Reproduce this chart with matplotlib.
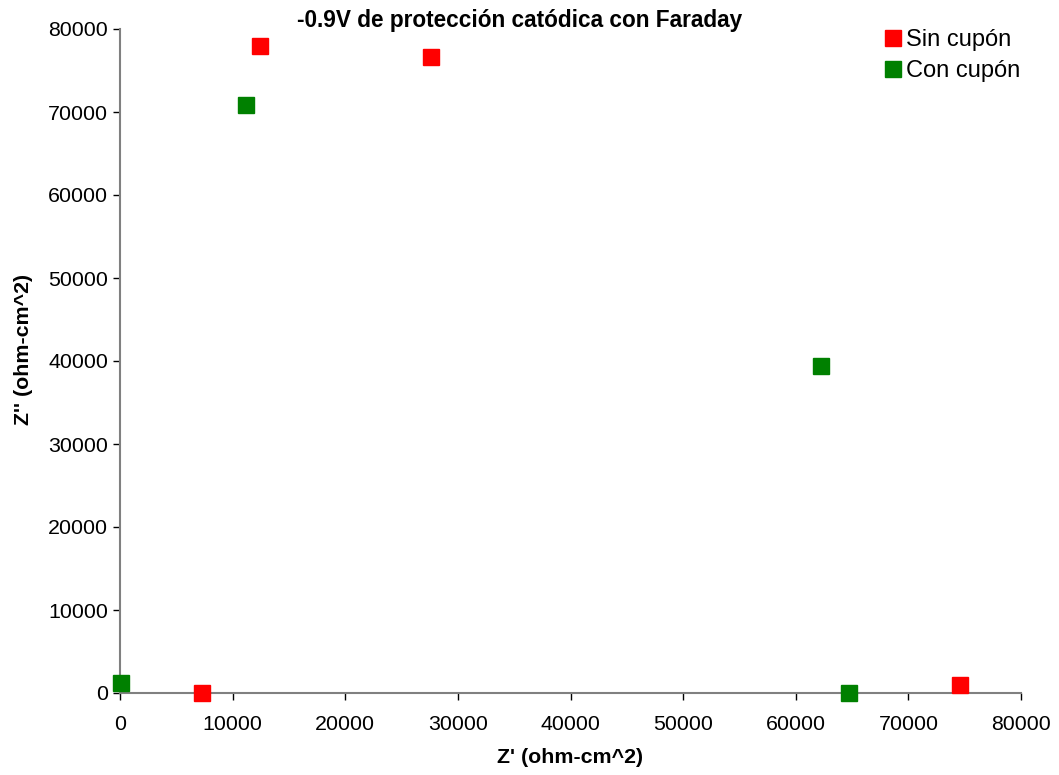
import matplotlib
matplotlib.use("Agg")
import matplotlib.pyplot as plt

plt.rcParams['font.family'] = ['Liberation Sans', 'DejaVu Sans']

sin_x = [7300, 12400, 27600, 74600]
sin_y = [0, 77900, 76600, 1000]
con_x = [100, 11200, 62200, 64700]
con_y = [1200, 70800, 39400, 0]
ticks = [0, 10000, 20000, 30000, 40000, 50000, 60000, 70000, 80000]

fig = plt.figure(figsize=(10.59, 7.75), dpi=100)
ax = fig.add_axes([120/1059, 82/775, 901/1059, 664/775])

ax.plot(sin_x, sin_y, linestyle='none', marker='s', markersize=11.5, color='#ff0000',
        markeredgecolor='#ff0000', clip_on=False, zorder=5, label='Sin cupón')
ax.plot(con_x, con_y, linestyle='none', marker='s', markersize=11.5, color='#008000',
        markeredgecolor='#008000', clip_on=False, zorder=5, label='Con cupón')

ax.set_xlim(0, 80000)
ax.set_ylim(0, 80000)
ax.set_xticks(ticks)
ax.set_yticks(ticks)
ax.tick_params(labelsize=15.4, direction='out', length=5, color='black', width=1)
ax.tick_params(axis='x', pad=11)
ax.tick_params(axis='y', pad=3.5)
for s in ['top', 'right']:
    ax.spines[s].set_visible(False)
for s in ['left', 'bottom']:
    ax.spines[s].set_color('#808080')
    ax.spines[s].set_linewidth(1.5)

ax.set_xlabel("Z' (ohm-cm^2)", fontsize=15.4, fontweight='bold', labelpad=10)
ax.set_ylabel("Z'' (ohm-cm^2)", fontsize=15.4, fontweight='bold')
ax.yaxis.set_label_coords((33 - 120) / 901, 0.518)
fig.text(520/1059, 1 - 20/775, "-0.9V de protección catódica con Faraday", fontsize=16.3,
         fontweight='bold', ha='center', va='center')

leg = ax.legend(loc='upper right', bbox_to_anchor=(1.01, 1.0135), frameon=False,
                fontsize=17, handletextpad=0.0, labelspacing=0.38, borderaxespad=0,
                handlelength=1.1)

fig.savefig('out.png', dpi=100)
